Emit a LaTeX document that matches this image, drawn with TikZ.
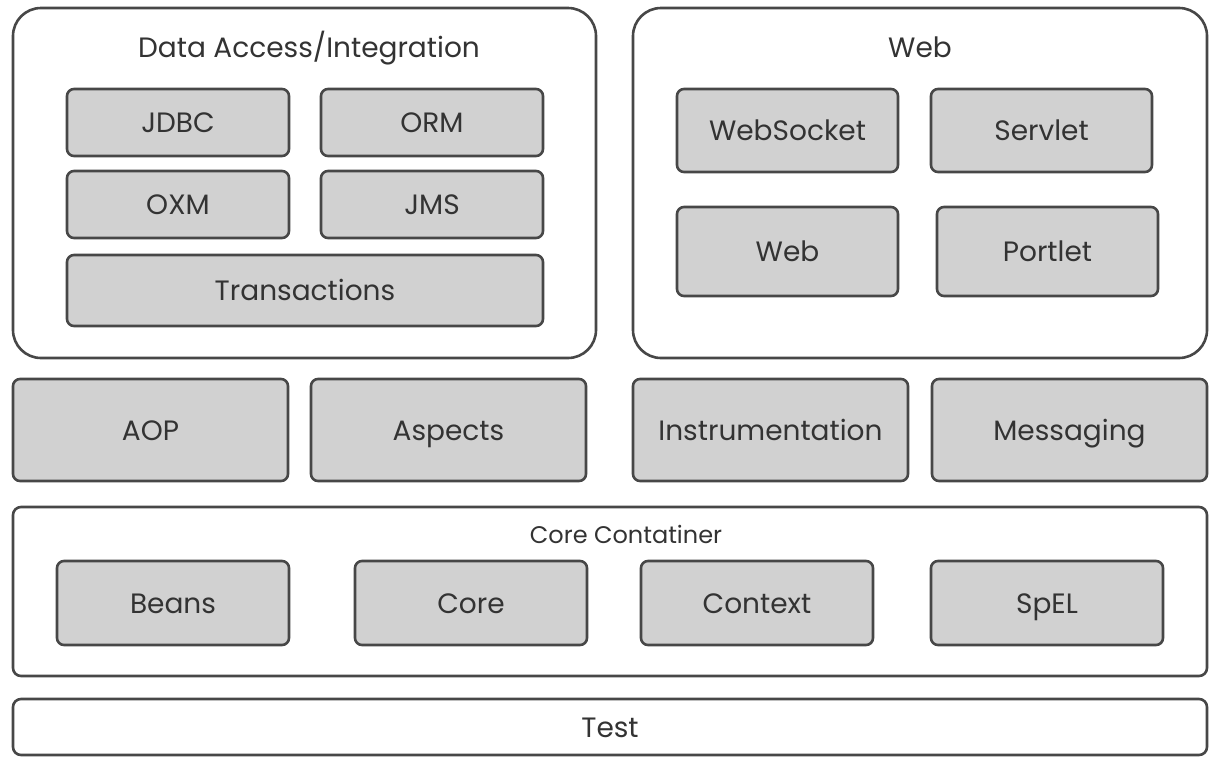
\documentclass[tikz,border=0pt]{standalone}
\usepackage{fontspec}
\setmainfont{Poppins}
\begin{document}
\begin{tikzpicture}[x=1pt,y=-1pt,
  outer/.style={draw=black!72,line width=2.6pt,fill=white,rounded corners=#1},
  outer/.default=28pt,
  mod/.style={draw=black!72,line width=2.6pt,fill=black!18,rounded corners=7pt},
  lbl/.style={text=black!80,font=\fontsize{28}{32}\selectfont,inner sep=0pt,anchor=base,yshift=-10pt},
  ttl/.style={lbl}]
\useasboundingbox (0,0) rectangle (1222,766);
% Data Access/Integration
\draw[outer] (13,8) rectangle (596,358);
\node[ttl] (da) at (309,47) {Data Access/Integration};
\draw[mod] (67,89) rectangle (289,156); \node[lbl] (jdbc) at (178,122.5) {JDBC};
\draw[mod] (321,89) rectangle (543,156); \node[lbl] (orm) at (432,122.5) {ORM};
\draw[mod] (67,171) rectangle (289,238); \node[lbl] (oxm) at (178,204.5) {OXM};
\draw[mod] (321,171) rectangle (543,238); \node[lbl] (jms) at (432,204.5) {JMS};
\draw[mod] (67,255) rectangle (543,326); \node[lbl] (tx) at (305,290.5) {Transactions};
% Web
\draw[outer] (633,8) rectangle (1207,358);
\node[ttl] (web) at (920,47) {Web};
\draw[mod] (677,89) rectangle (898,172); \node[lbl] (ws) at (787.5,130.5) {WebSocket};
\draw[mod] (931,89) rectangle (1152,172); \node[lbl] (srv) at (1041.5,130.5) {Servlet};
\draw[mod] (677,207) rectangle (898,296); \node[lbl] (webm) at (787.5,251.5) {Web};
\draw[mod] (937,207) rectangle (1158,296); \node[lbl] (port) at (1047.5,251.5) {Portlet};
% middle row
\draw[mod] (13,379) rectangle (288,481); \node[lbl] (aop) at (150.5,430) {AOP};
\draw[mod] (311,379) rectangle (586,481); \node[lbl] (asp) at (448.5,430) {Aspects};
\draw[mod] (633,379) rectangle (908,481); \node[lbl] (ins) at (770.5,430) {Instrumentation};
\draw[mod] (932,379) rectangle (1207,481); \node[lbl] (msg) at (1069.5,430) {Messaging};
% Core Container
\draw[outer=8pt] (13,507) rectangle (1207,676);
\node[lbl,font=\fontsize{24}{28}\selectfont,yshift=1.5pt] (cc) at (626,535) {Core Contatiner};
\draw[mod] (57,561) rectangle (289,645); \node[lbl] (beans) at (173,603) {Beans};
\draw[mod] (355,561) rectangle (587,645); \node[lbl] (core) at (471,603) {Core};
\draw[mod] (641,561) rectangle (873,645); \node[lbl] (ctx) at (757,603) {Context};
\draw[mod] (931,561) rectangle (1163,645); \node[lbl] (spel) at (1047,603) {SpEL};
% Test
\draw[outer=8pt] (13,699) rectangle (1207,755);
\node[lbl] (test) at (610,727) {Test};
\end{tikzpicture}
\end{document}
